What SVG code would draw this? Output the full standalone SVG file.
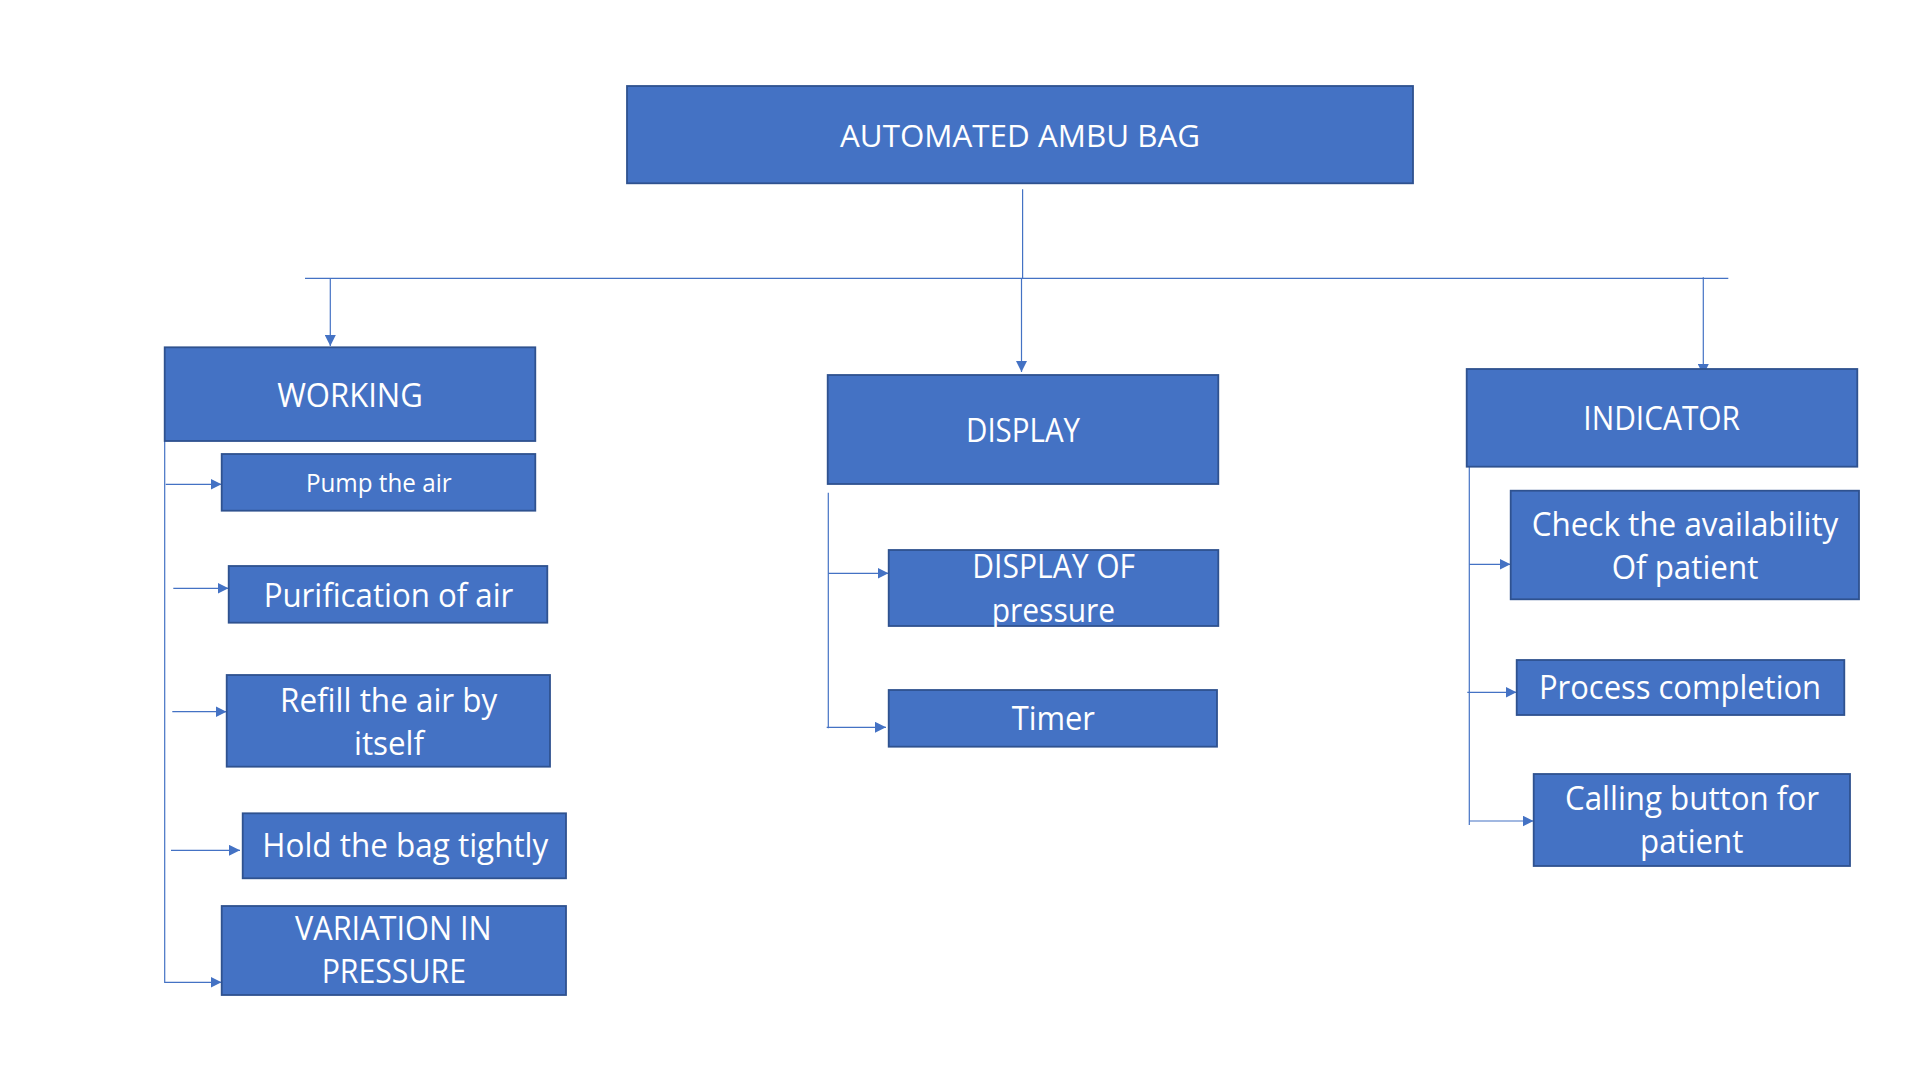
<svg xmlns="http://www.w3.org/2000/svg" width="1920" height="1080" viewBox="0 0 1920 1080">
  <style>
    .box { fill: #4472C4; stroke: #2F528F; stroke-width: 1.8; }
    .lbl { font-family: "Open Sans", "Noto Sans", "Liberation Sans", sans-serif; fill: #FFFFFF; text-anchor: middle; font-size: 32.5px; }
    .sm { font-size: 25.6px; }
    .md { font-size: 30.4px; }
    .conn { stroke: #4472C4; stroke-width: 1.2; fill: none; }
    .arr { marker-end: url(#head); }
  </style>
  <defs>
    <marker id="head" markerUnits="userSpaceOnUse" markerWidth="11" markerHeight="11" viewBox="0 0 10 10" refX="10" refY="5" orient="auto">
      <path d="M0,0 L10,5 L0,10 Z" fill="#4472C4"/>
    </marker>
  </defs>
  <rect width="1920" height="1080" fill="#FFFFFF"/>

  <!-- connectors -->
  <g id="connectors">
    <!-- trunk and bus -->
    <line class="conn" x1="1022.6" y1="189.3" x2="1022.6" y2="278.3"/>
    <line class="conn" x1="305" y1="278.3" x2="1728.3" y2="278.3"/>
    <line class="conn arr" x1="330.3" y1="278.3" x2="330.3" y2="346"/>
    <line class="conn arr" x1="1021.5" y1="278.3" x2="1021.5" y2="372"/>
    <line class="conn arr" x1="1703.3" y1="277.3" x2="1703.3" y2="375"/>

    <!-- WORKING branch -->
    <polyline class="conn arr" points="164.7,418 164.7,982.3 221.5,982.3"/>
    <line class="conn arr" x1="165.7" y1="484.3" x2="221.5" y2="484.3"/>
    <line class="conn arr" x1="173.3" y1="588.3" x2="228.5" y2="588.3"/>
    <line class="conn arr" x1="172.3" y1="711.7" x2="226.5" y2="711.7"/>
    <line class="conn arr" x1="171" y1="850.3" x2="240" y2="850.3"/>

    <!-- DISPLAY branch -->
    <line class="conn" x1="828.3" y1="492.7" x2="828.3" y2="728.3"/>
    <line class="conn arr" x1="828.3" y1="573.3" x2="888.5" y2="573.3"/>
    <line class="conn arr" x1="826.7" y1="727.3" x2="886" y2="727.3"/>

    <!-- INDICATOR branch -->
    <line class="conn" x1="1469.3" y1="460" x2="1469.3" y2="825"/>
    <line class="conn arr" x1="1469.3" y1="564.3" x2="1510.5" y2="564.3"/>
    <line class="conn arr" x1="1467.3" y1="692.3" x2="1516.5" y2="692.3"/>
    <line class="conn arr" x1="1469.3" y1="821" x2="1533.5" y2="821"/>
  </g>

  <!-- root -->
  <g id="node-root">
    <rect class="box" x="627" y="86" width="786" height="97.3"/>
    <text class="lbl md" x="1020" y="146.7" textLength="360" lengthAdjust="spacingAndGlyphs">AUTOMATED AMBU BAG</text>
  </g>

  <!-- WORKING column -->
  <g id="node-working">
    <rect class="box" x="164.7" y="347.3" width="370.6" height="93.7"/>
    <text class="lbl" x="350" y="406.7" textLength="145.7" lengthAdjust="spacingAndGlyphs">WORKING</text>
  </g>
  <g id="node-pump">
    <rect class="box" x="221.7" y="454" width="313.6" height="56.7"/>
    <text class="lbl sm" x="378.8" y="491.7" textLength="145.7" lengthAdjust="spacingAndGlyphs">Pump the air</text>
  </g>
  <g id="node-purification">
    <rect class="box" x="228.7" y="566" width="318.6" height="56.7"/>
    <text class="lbl" x="388.5" y="606.7" textLength="249.7" lengthAdjust="spacingAndGlyphs">Purification of air</text>
  </g>
  <g id="node-refill">
    <rect class="box" x="226.7" y="675" width="323.3" height="91.7"/>
    <text class="lbl" x="388.7" y="711.7" textLength="217.3" lengthAdjust="spacingAndGlyphs">Refill the air by</text>
    <text class="lbl" x="389" y="755" textLength="70" lengthAdjust="spacingAndGlyphs">itself</text>
  </g>
  <g id="node-hold">
    <rect class="box" x="242.7" y="813.3" width="323.3" height="65"/>
    <text class="lbl" x="405.3" y="857.3" textLength="286" lengthAdjust="spacingAndGlyphs">Hold the bag tightly</text>
  </g>
  <g id="node-variation">
    <rect class="box" x="221.7" y="906" width="344.3" height="89"/>
    <text class="lbl" x="393.3" y="940" textLength="196.7" lengthAdjust="spacingAndGlyphs">VARIATION IN</text>
    <text class="lbl" x="393.8" y="983.3" textLength="144.3" lengthAdjust="spacingAndGlyphs">PRESSURE</text>
  </g>

  <!-- DISPLAY column -->
  <g id="node-display">
    <rect class="box" x="827.7" y="375" width="390.6" height="109"/>
    <text class="lbl" x="1023" y="441.7" textLength="114" lengthAdjust="spacingAndGlyphs">DISPLAY</text>
  </g>
  <g id="node-display-pressure">
    <rect class="box" x="888.7" y="550" width="329.6" height="76"/>
    <text class="lbl" x="1053.7" y="578.3" textLength="162.7" lengthAdjust="spacingAndGlyphs">DISPLAY OF</text>
    <text class="lbl" x="1053.4" y="621.7" textLength="123.3" lengthAdjust="spacingAndGlyphs">pressure</text>
  </g>
  <g id="node-timer">
    <rect class="box" x="888.7" y="690" width="328.3" height="56.7"/>
    <text class="lbl" x="1053.3" y="730" textLength="83.3" lengthAdjust="spacingAndGlyphs">Timer</text>
  </g>

  <!-- INDICATOR column -->
  <g id="node-indicator">
    <rect class="box" x="1466.7" y="369" width="390.6" height="97.7"/>
    <text class="lbl" x="1661.7" y="430" textLength="156.7" lengthAdjust="spacingAndGlyphs">INDICATOR</text>
  </g>
  <g id="node-availability">
    <rect class="box" x="1510.7" y="490.7" width="348.3" height="108.6"/>
    <text class="lbl" x="1685" y="536" textLength="306.7" lengthAdjust="spacingAndGlyphs">Check the availability</text>
    <text class="lbl" x="1685" y="579.3" textLength="146.7" lengthAdjust="spacingAndGlyphs">Of patient</text>
  </g>
  <g id="node-completion">
    <rect class="box" x="1516.7" y="660" width="327.6" height="55"/>
    <text class="lbl" x="1680" y="699.3" textLength="282" lengthAdjust="spacingAndGlyphs">Process completion</text>
  </g>
  <g id="node-calling">
    <rect class="box" x="1533.7" y="774" width="316.3" height="92"/>
    <text class="lbl" x="1692" y="810" textLength="254" lengthAdjust="spacingAndGlyphs">Calling button for</text>
    <text class="lbl" x="1691.7" y="853.3" textLength="103.3" lengthAdjust="spacingAndGlyphs">patient</text>
  </g>
</svg>
